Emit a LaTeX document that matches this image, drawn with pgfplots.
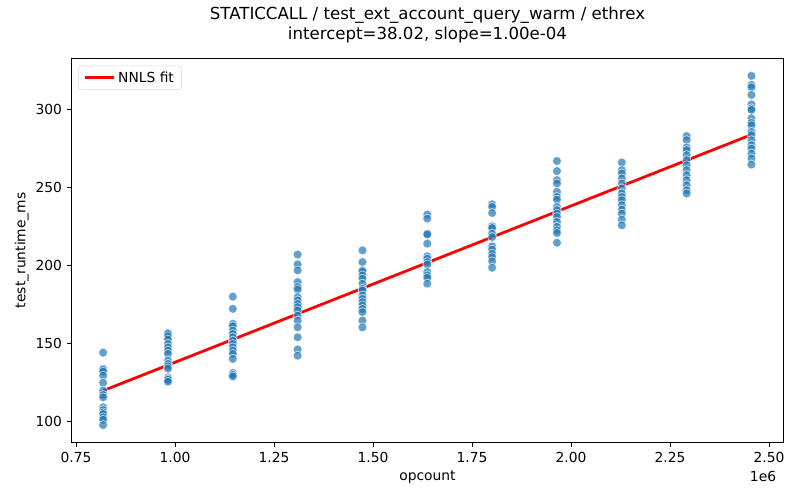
\documentclass[border=0pt]{standalone}
\usepackage{pgfplots}
\pgfplotsset{compat=1.18}
\usepackage{fontspec}
\setmainfont{DejaVu Sans}
\definecolor{mplblue}{HTML}{1F77B4}
\begin{document}
\begin{tikzpicture}
\path[use as bounding box] (-51.6bp,-41.5bp) rectangle (524.4bp,318.5bp);
\begin{axis}[
  scale only axis,
  clip=false,
  width=512.4bp, height=276.5bp,
  xmin=0.739, xmax=2.536,
  ymin=86.8, ymax=332.4,
  xtick={0.75,1.00,1.25,1.50,1.75,2.00,2.25,2.50},
  ytick={100,150,200,250,300},
  xticklabel style={/pgf/number format/.cd,fixed,fixed zerofill,precision=2},
  /pgf/number format/assume math mode=true,
  tick label style={font=\fontsize{10}{12}\selectfont},
  tick align=outside,
  tick pos=left,
  major tick length=3.5bp,
  every tick/.style={black, line width=0.6bp},
  axis line style={line width=0.6bp},
  xlabel={opcount},
  ylabel={test\_runtime\_ms},
  label style={font=\fontsize{10}{12}\selectfont},
  xlabel style={at={(axis description cs:0.5,0)},anchor=center,yshift=-24.8bp},
  ylabel style={at={(axis description cs:0,0.5)},anchor=center,rotate=0,yshift=36bp},
  title={STATICCALL / test\_ext\_account\_query\_warm / ethrex\\intercept=38.02, slope=1.00e-04},
  title style={at={(axis description cs:0.5,1)},anchor=center,yshift=18bp,align=center,font=\fontsize{12}{14.4}\selectfont},
  legend style={at={(axis description cs:0,1)},anchor=north west,xshift=4.8bp,yshift=-5.3bp,
    draw=black!15, rounded corners=2bp, font=\fontsize{10}{12}\selectfont,
    inner xsep=3.5bp, inner ysep=2bp},
  legend cell align=left,
  legend image code/.code={\draw[#1] (0bp,0bp) -- (21bp,0bp);},
]
\addplot[only marks, mark=*, mark size=3.2bp,
  mark options={fill=mplblue, draw=white, line width=0.5bp, opacity=0.7},
  forget plot] table[x=x, y=y] {
x y
0.8185 144.2
0.8185 133.9
0.8185 133.3
0.8185 132.1
0.8185 129.5
0.8185 124.9
0.8185 119.9
0.8185 117.1
0.8185 115.6
0.8185 109.2
0.8185 107.5
0.8185 106.0
0.8185 104.9
0.8185 102.8
0.8185 101.3
0.8185 97.9
0.9822 156.8
0.9822 156.2
0.9822 154.7
0.9822 152.6
0.9822 149.8
0.9822 147.6
0.9822 145.5
0.9822 143.4
0.9822 139.1
0.9822 137.0
0.9822 135.4
0.9822 134.0
0.9822 128.4
0.9822 127.6
0.9822 126.9
0.9822 125.6
1.1459 180.0
1.1459 172.2
1.1459 162.6
1.1459 161.1
1.1459 158.3
1.1459 156.2
1.1459 154.0
1.1459 151.9
1.1459 149.8
1.1459 147.6
1.1459 145.5
1.1459 143.4
1.1459 140.2
1.1459 131.2
1.1459 130.0
1.1459 129.0
1.3096 206.9
1.3096 200.6
1.3096 196.8
1.3096 189.3
1.3096 186.1
1.3096 184.6
1.3096 179.7
1.3096 177.6
1.3096 175.4
1.3096 173.3
1.3096 171.2
1.3096 167.9
1.3096 164.7
1.3096 160.4
1.3096 154.0
1.3096 146.2
1.3096 142.3
1.4733 209.6
1.4733 202.1
1.4733 196.8
1.4733 196.2
1.4733 193.6
1.4733 191.5
1.4733 188.3
1.4733 185.1
1.4733 184.0
1.4733 180.8
1.4733 178.6
1.4733 176.5
1.4733 174.4
1.4733 172.2
1.4733 170.1
1.4733 164.7
1.4733 160.4
1.6370 232.5
1.6370 229.9
1.6370 220.3
1.6370 219.8
1.6370 213.9
1.6370 205.8
1.6370 204.3
1.6370 202.1
1.6370 200.6
1.6370 195.7
1.6370 193.6
1.6370 192.1
1.6370 188.3
1.8007 239.1
1.8007 237.4
1.8007 233.5
1.8007 225.0
1.8007 223.9
1.8007 220.3
1.8007 218.1
1.8007 212.2
1.8007 210.1
1.8007 207.5
1.8007 205.3
1.8007 202.6
1.8007 198.5
1.9644 266.7
1.9644 260.3
1.9644 254.5
1.9644 252.4
1.9644 247.0
1.9644 243.8
1.9644 242.1
1.9644 237.4
1.9644 235.3
1.9644 233.1
1.9644 231.0
1.9644 227.8
1.9644 224.6
1.9644 222.4
1.9644 220.7
1.9644 214.5
2.1281 265.8
2.1281 260.9
2.1281 258.8
2.1281 255.6
2.1281 252.4
2.1281 249.2
2.1281 246.0
2.1281 243.8
2.1281 241.7
2.1281 238.5
2.1281 235.7
2.1281 233.1
2.1281 229.3
2.1281 225.6
2.2918 282.7
2.2918 280.1
2.2918 275.4
2.2918 273.7
2.2918 270.5
2.2918 267.3
2.2918 264.1
2.2918 260.9
2.2918 257.7
2.2918 254.5
2.2918 251.3
2.2918 248.1
2.2918 246.0
2.4555 321.2
2.4555 315.4
2.4555 313.9
2.4555 309.0
2.4555 303.0
2.4555 300.4
2.4555 299.4
2.4555 294.0
2.4555 291.2
2.4555 289.7
2.4555 285.4
2.4555 283.3
2.4555 280.1
2.4555 276.9
2.4555 274.7
2.4555 271.5
2.4555 268.4
2.4555 264.5
};
\addplot[red, line width=2bp] coordinates {(0.8185,119.87) (2.4555,283.57)};
\addlegendentry{NNLS fit}
\node[anchor=east, font=\fontsize{10}{12}\selectfont, xshift=-1.7bp, yshift=-24.8bp] at (rel axis cs:1,0) {1e6};
\end{axis}
\end{tikzpicture}
\end{document}
